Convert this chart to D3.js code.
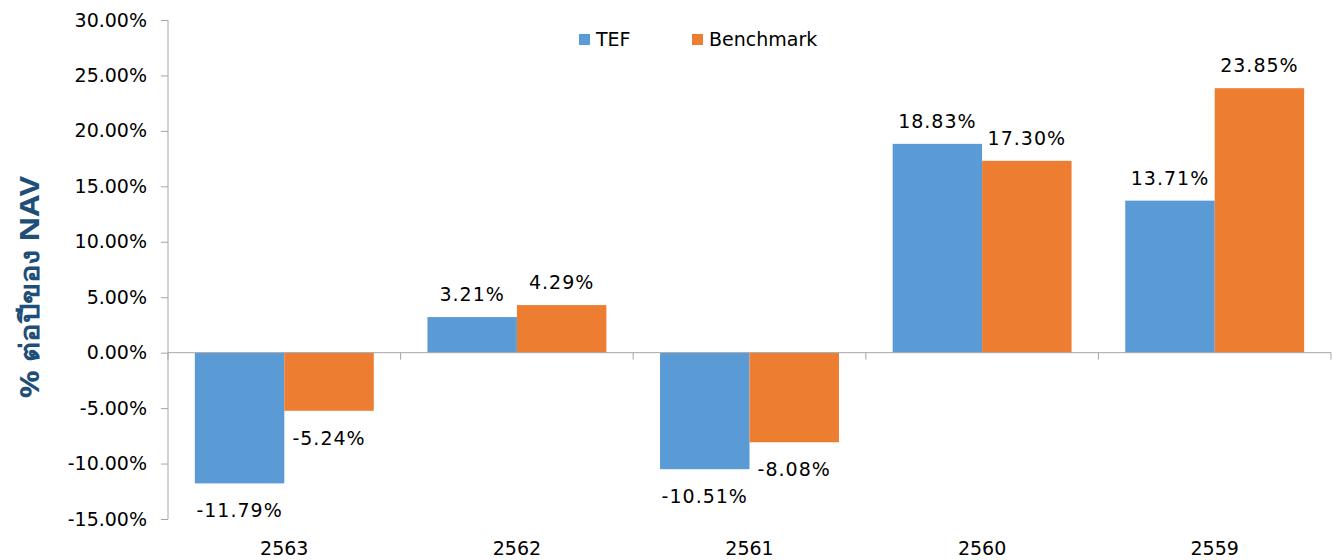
<!DOCTYPE html>
<html>
<head>
<meta charset="utf-8">
<script src="https://cdn.jsdelivr.net/npm/d3@7"></script>
<style>
  body { margin: 0; background: #fff; }
  text { font-family: "DejaVu Sans", Verdana, sans-serif; fill: #000; }
</style>
</head>
<body>
<svg id="chart"></svg>
<script>
// Data
const years = ["2563", "2562", "2561", "2560", "2559"];
const tefValues = [-11.79, 3.21, -10.51, 18.83, 13.71];
const benchmarkValues = [-5.24, 4.29, -8.08, 17.30, 23.85];
const seriesNames = ["TEF", "Benchmark"];
const yTicks = [-15, -10, -5, 0, 5, 10, 15, 20, 25, 30];

const svgWidth = 1332;
const svgHeight = 560;
const margin = { top: 20, right: 1, bottom: 41, left: 168 };
const width = svgWidth - margin.left - margin.right;
const height = svgHeight - margin.top - margin.bottom;

const colors = ["#5B9BD5", "#ED7D31"];
const axisColor = "#A6A6A6";

const svg = d3.select("#chart")
    .attr("width", svgWidth)
    .attr("height", svgHeight);

const chart = svg.append("g")
    .attr("transform", `translate(${margin.left},${margin.top})`);

const rows = years.map((y, i) => ({ year: y, values: [tefValues[i], benchmarkValues[i]] }));

// Scales
const x0 = d3.scaleBand()
    .domain(years)
    .range([0, width])
    .paddingInner(0.6 / 2.6)
    .paddingOuter(0.3 / 2.6);

const band = d3.scaleBand().domain(years).range([0, width]);

const x1 = d3.scaleBand()
    .domain([0, 1])
    .range([0, x0.bandwidth()]);

const y = d3.scaleLinear()
    .domain([-15, 30])
    .range([height, 0]);

// y axis
const yAxis = d3.axisLeft(y)
    .tickValues(yTicks)
    .tickSize(7)
    .tickPadding(14)
    .tickFormat(d => d.toFixed(2) + "%");

const yg = chart.append("g").call(yAxis);
yg.select(".domain").attr("stroke", axisColor).attr("d", `M0,0V${height}`);
yg.selectAll(".tick line").attr("stroke", axisColor);
yg.selectAll(".tick text")
    .style("font-size", "19px")
    .style("font-family", "DejaVu Sans, Verdana, sans-serif")
    .attr("fill", "#000");

// bars
const groups = chart.selectAll(".grp")
    .data(rows)
    .enter()
    .append("g")
    .attr("class", "grp")
    .attr("transform", d => `translate(${x0(d.year)},0)`);

groups.selectAll("rect")
    .data(d => d.values.map((v, i) => ({ v, i })))
    .enter()
    .append("rect")
    .attr("x", d => x1(d.i))
    .attr("width", x1.bandwidth())
    .attr("y", d => y(Math.max(0, d.v)))
    .attr("height", d => Math.abs(y(d.v) - y(0)))
    .attr("fill", d => colors[d.i]);

groups.selectAll(".lbl")
    .data(d => d.values.map((v, i) => ({ v, i })))
    .enter()
    .append("text")
    .attr("class", "lbl")
    .attr("x", d => x1(d.i) + x1.bandwidth() / 2)
    .attr("y", d => d.v >= 0 ? y(d.v) - 16 : y(d.v) + 34)
    .attr("text-anchor", "middle")
    .style("font-size", "19px")
    .style("letter-spacing", "1px")
    .text(d => d.v.toFixed(2) + "%");

// x axis at zero
const xAxis = d3.axisBottom(band).tickSize(0).tickFormat("");
const xg = chart.append("g")
    .attr("transform", `translate(0,${y(0)})`)
    .call(xAxis);
xg.select(".domain").attr("stroke", axisColor).attr("d", `M0,0H${width}`);
xg.selectAll(".tick").remove();

// category boundary tick marks
chart.selectAll(".ctick")
    .data(years.concat(["end"]))
    .enter()
    .append("line")
    .attr("x1", (d, i) => i < years.length ? band(d) : width)
    .attr("x2", (d, i) => i < years.length ? band(d) : width)
    .attr("y1", y(0))
    .attr("y2", y(0) + 7)
    .attr("stroke", axisColor);

// category labels at bottom
chart.selectAll(".xlab")
    .data(years)
    .enter()
    .append("text")
    .attr("class", "xlab")
    .attr("x", d => band(d) + band.bandwidth() / 2)
    .attr("y", height + 36)
    .attr("text-anchor", "middle")
    .style("font-size", "19px")
    .text(d => d);

// y axis title
svg.append("text")
    .attr("transform", `translate(39,${margin.top + y(5.9)}) rotate(-90)`)
    .attr("text-anchor", "middle")
    .attr("textLength", 222)
    .attr("lengthAdjust", "spacingAndGlyphs")
    .style("font-size", "27px")
    .style("font-weight", "bold")
    .style("font-family", "Noto Sans, DejaVu Sans, sans-serif")
    .style("fill", "#1F4E79")
    .text("% ต่อปีของ NAV");

// legend
const legend = svg.append("g");
const legendX = [579, 692];
seriesNames.forEach((name, i) => {
    legend.append("rect")
        .attr("x", legendX[i])
        .attr("y", 34)
        .attr("width", 11)
        .attr("height", 11)
        .attr("fill", colors[i]);
    legend.append("text")
        .attr("x", legendX[i] + 17)
        .attr("y", 46)
        .style("font-size", "19px")
        .text(name);
});
</script>
</body>
</html>
